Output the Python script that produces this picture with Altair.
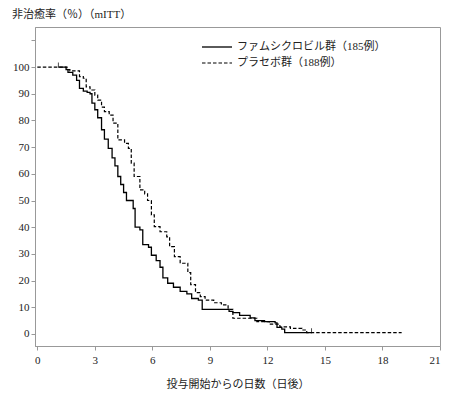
import altair as alt
import pandas as pd

# ファムシクロビル群 (solid)
fam_t = [1.1, 1.5, 1.6, 1.85, 2.05, 2.2, 2.4, 2.6, 2.75, 2.85, 3.0, 3.15, 3.35, 3.5, 3.7,
         3.9, 4.05, 4.2, 4.35, 4.5, 4.65, 5.0, 5.1, 5.35, 5.5, 5.8, 5.95, 6.2, 6.4, 6.55,
         6.8, 7.1, 7.45, 7.8, 8.05, 8.4, 8.6, 10.0, 10.2, 10.55, 11.1, 11.35, 11.85, 12.4,
         12.5, 12.75, 12.9, 14.3]
fam_v = [100, 99, 98, 97, 95, 92, 91, 90.5, 90, 86.5, 84, 81, 76.5, 73, 69.5,
         66, 63, 59, 56, 53, 50, 47, 40, 39, 33.5, 32.5, 29.5, 27.5, 25, 21,
         19, 17.5, 16, 15, 13.3, 12.7, 9.2, 8.5, 8, 7, 6, 5, 4.6, 4.2,
         2.5, 1.8, 0.5, 0.5]

# プラセボ群 (dashed)
pla_t = [0, 1.55, 1.7, 2.2, 2.4, 2.55, 2.75, 3.0, 3.15, 3.35, 3.5, 3.75, 3.95, 4.2, 4.55,
         4.75, 4.9, 5.05, 5.35, 5.6, 5.75, 5.95, 6.1, 6.4, 6.75, 6.9, 7.15, 7.45, 7.85,
         8.0, 8.25, 8.5, 8.75, 9.2, 9.6, 9.95, 10.2, 10.9, 11.45, 12.1, 12.65, 13.2, 13.8,
         14.05, 19.0]
pla_v = [100, 99, 98.6, 96.4, 95.8, 92.6, 91.4, 89.5, 87.6, 85, 83.3, 82, 79, 72.7, 71.4,
         69.5, 64, 59, 54, 52.5, 50, 44.6, 40.2, 38.3, 36.4, 32.7, 29, 26.5, 23,
         18.5, 15.5, 14, 12.7, 11.7, 10.9, 9.2, 5.9, 5.9, 4.6, 3.7, 2.7, 2.1, 1.5,
         0.5, 0.5]

censor_t = [1.1, 14.3]
censor_v = [100, 0.5]

x_ticks = [0, 3, 6, 9, 12, 15, 18, 21]
y_ticks = [0, 10, 20, 30, 40, 50, 60, 70, 80, 90, 100, 110]

legend_labels = ["ファムシクロビル群（185例）", "プラセボ群（188例）"]
chart_title = "非治癒率（％）（mITT）"

FONT = "Liberation Serif, Noto Sans CJK JP"

fam = pd.DataFrame({"t": fam_t, "v": fam_v})
pla = pd.DataFrame({"t": pla_t, "v": pla_v})
cen = pd.DataFrame({"t": censor_t, "v": censor_v})

xs = alt.Scale(domain=[-0.12, 21], nice=False, zero=False)
ys = alt.Scale(domain=[-4.5, 115], nice=False, zero=False)

xax = alt.Axis(values=x_ticks, title="投与開始からの日数（日後）", grid=False,
               labelFont=FONT, labelFontSize=11, labelColor="#222", labelOverlap=False,
               titleFont=FONT, titleFontSize=11, titleFontWeight="normal",
               titleColor="#222", titlePadding=13, labelPadding=4,
               domainColor="#999", tickColor="#999", tickSize=4)
yax = alt.Axis(values=y_ticks, title=None, grid=False, labelOverlap=False,
               labelExpr="datum.value > 100 ? '' : datum.label",
               labelFont=FONT, labelFontSize=11, labelColor="#222", labelPadding=2,
               domainColor="#999", tickColor="#999", tickSize=4)

solid = alt.Chart(fam).mark_line(interpolate="step-after", color="black",
                                 strokeWidth=1.3)
dashed = alt.Chart(pla).mark_line(interpolate="step-after", color="black",
                                  strokeWidth=1.2, strokeDash=[3.5, 2])
ticks = alt.Chart(cen).mark_tick(color="black", orient="vertical", size=5,
                                 thickness=1, yOffset=-2)

curves = alt.layer(solid, dashed, ticks).encode(
    x=alt.X("t:Q", scale=xs, axis=xax), y=alt.Y("v:Q", scale=ys, axis=yax))

one = pd.DataFrame({"a": [0]})
leg_solid = alt.Chart(one).mark_rule(color="black", strokeWidth=1.3).encode(
    x=alt.value(167), x2=alt.value(197), y=alt.value(20))
leg_dash = alt.Chart(one).mark_rule(color="black", strokeWidth=1.2,
                                    strokeDash=[3.5, 2]).encode(
    x=alt.value(167), x2=alt.value(197), y=alt.value(36))
leg_t1 = alt.Chart(pd.DataFrame({"label": [legend_labels[0]]})).mark_text(
    align="left", baseline="middle", font=FONT, fontSize=11, color="#222").encode(
    x=alt.value(202), y=alt.value(20), text="label:N")
leg_t2 = alt.Chart(pd.DataFrame({"label": [legend_labels[1]]})).mark_text(
    align="left", baseline="middle", font=FONT, fontSize=11, color="#222").encode(
    x=alt.value(202), y=alt.value(36), text="label:N")
title_t = alt.Chart(pd.DataFrame({"label": [chart_title]})).mark_text(
    align="left", baseline="middle", font=FONT, fontSize=11, color="#222").encode(
    x=alt.value(-23), y=alt.value(-12), text="label:N")

chart = alt.layer(curves, leg_solid, leg_dash, leg_t1, leg_t2, title_t).properties(
    width=405, height=319,
    autosize=alt.AutoSizeParams(type="none"),
    padding={"left": 27, "top": 19, "right": 2, "bottom": 47},
).configure_view(stroke="#999", strokeWidth=1).configure_axisY(labelOverlap=False)

chart.save("out.html", embed_options={"renderer": "svg", "actions": False})
